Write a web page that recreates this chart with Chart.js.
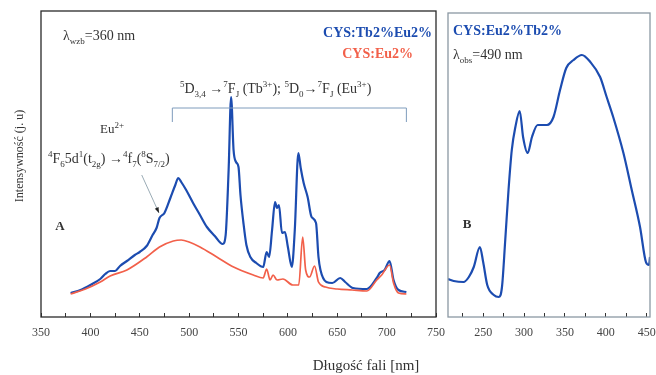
<!DOCTYPE html>
<html>
<head>
<meta charset="utf-8">
<script src="https://cdn.jsdelivr.net/npm/chart.js@4/dist/chart.umd.min.js"></script>
<style>
  body { margin: 0; background: #fff; overflow: hidden; }
  #wrap { position: relative; width: 656px; height: 375px; overflow: hidden; }
  canvas { position: absolute; top: 0; }
</style>
</head>
<body>
<div id="wrap">
  <canvas id="left" width="460" height="375" style="left:0"></canvas>
  <canvas id="right" width="240" height="375" style="left:440px"></canvas>
</div>
<script>
// panel A - emission spectra (wavelength nm, intensity a.u.)
const blueNm = [380,390,400,410,415,420,425,430,437,445,450,457,463,467,470,475,481,486,489,492,497,504,511,518,526,534,537,540,542.5,545,547.5,550,552,555,558,562,568,575,578.5,581,584,587,589,591,594,597,600,604,607,610.6,613,616,620,624,628.5,631,633,639,645,653,658,666,680,690,693,698,703,707,712,720];
const blueVal = [24,27,32,38,43,46,46,51,56,62,65,71,82,89,99,104,119,132,139,135,127,114,102,90,81,73,82,147,220,167,155,150,122,94,72,60,54,50,65,60,87,115,109,112,84,85,70,50,87,164,149,134,120,100,94,60,47,35,34,39,35,29,28,39,44,47,56,37,27,25];
const redNm = [380,395,410,420,437,457,470,484,492,500,511,528,545,565,575,578.5,582,585,589,595,605,611,615,618,622,627,631,638,650,665,680,690,695,703,707,712,720];
const redVal = [23,28,35,41,47,60,70,76,77,75,70,60,50,42,39,48,37,42,37,38,32,32,80,47,40,51,35,30,28,27,26,37,42,52,34,24,23];
// panel B - excitation spectrum
const exNm = [207,214,226,232.5,238.5,246,250,255,263,269,273,277,281,285,289.4,294.7,298.8,304.4,309.7,316.6,328,336,344,351.6,360.5,370.7,381,393,401,409,421.5,431.7,441.8,449,452.8,454];
const exVal = [38,36,35,40,50,70,55,32,22,20,30,77,127,167,190,206,180,164,180,192,192,200,227,249,257,262,255,240,220,200,164,127,90,55,52,60];
const labelsA = ['CYS:Tb2%Eu2%', 'CYS:Eu2%'];
const labelB = 'CYS:Eu2%Tb2%';

const BLUE = '#1c4cb0';
const RED = '#f2604a';
const SERIF = '"Liberation Serif", "DejaVu Serif", serif';

function pts(xs, ys) { return xs.map((x, i) => ({ x: x, y: ys[i] })); }

// text with super/subscripts: parts = [[text, 'n'|'u'|'d'], ...]
function rich(ctx, x, y, parts, size, align) {
  const f = m => (m === 'n' ? size : Math.round(size * 0.66)) + 'px ' + SERIF;
  let w = 0;
  parts.forEach(p => { ctx.font = f(p[1]); w += ctx.measureText(p[0]).width; });
  let cx = align === 'center' ? x - w / 2 : (align === 'right' ? x - w : x);
  ctx.textAlign = 'left';
  ctx.textBaseline = 'alphabetic';
  parts.forEach(p => {
    ctx.font = f(p[1]);
    const dy = p[1] === 'u' ? -size * 0.4 : (p[1] === 'd' ? size * 0.28 : 0);
    ctx.fillText(p[0], cx, y + dy);
    cx += ctx.measureText(p[0]).width;
  });
}

function frame(color) {
  return {
    id: 'frame',
    afterDatasetsDraw(chart) {
      const a = chart.chartArea, ctx = chart.ctx;
      ctx.save();
      ctx.strokeStyle = color;
      ctx.lineWidth = 1.3;
      ctx.strokeRect(a.left, a.top, a.right - a.left, a.bottom - a.top);
      ctx.restore();
    }
  };
}

function xAxis(min, max) {
  return {
    type: 'linear', min: min, max: max,
    afterFit: s => { s.height = 58; },
    grid: { drawOnChartArea: false, color: '#333', tickLength: -4, tickWidth: 1 },
    border: { display: false },
    ticks: {
      stepSize: 25, autoSkip: false, maxRotation: 0, includeBounds: false, padding: 13,
      color: '#444', font: { family: SERIF, size: 12 },
      callback: v => (v % 50 === 0 ? v : '')
    }
  };
}

const notesA = {
  id: 'notesA',
  afterDraw(chart) {
    const ctx = chart.ctx, xs = chart.scales.x, ys = chart.scales.y;
    ctx.save();
    ctx.fillStyle = '#333';
    rich(ctx, 63, 40, [['λ', 'n'], ['wzb', 'd'], ['=360 nm', 'n']], 14, 'left');
    ctx.font = 'bold 14px ' + SERIF;
    ctx.textAlign = 'right';
    ctx.fillStyle = BLUE;
    ctx.fillText(labelsA[0], 432, 37);
    ctx.fillStyle = RED;
    ctx.fillText(labelsA[1], 413, 58);
    ctx.fillStyle = '#333';
    rich(ctx, 180, 93, [['5', 'u'], ['D', 'n'], ['3,4', 'd'], [' →', 'n'], ['7', 'u'], ['F', 'n'], ['J', 'd'], [' (Tb', 'n'], ['3+', 'u'], ['); ', 'n'], ['5', 'u'], ['D', 'n'], ['0', 'd'], ['→', 'n'], ['7', 'u'], ['F', 'n'], ['J', 'd'], [' (Eu', 'n'], ['3+', 'u'], [')', 'n']], 14, 'left');
    rich(ctx, 112, 133, [['Eu', 'n'], ['2+', 'u']], 13, 'center');
    rich(ctx, 48, 163, [['4', 'u'], ['F', 'n'], ['6', 'd'], ['5d', 'n'], ['1', 'u'], ['(t', 'n'], ['2g', 'd'], [') →', 'n'], ['4', 'u'], ['f', 'n'], ['7', 'd'], ['(', 'n'], ['8', 'u'], ['S', 'n'], ['7/2', 'd'], [')', 'n']], 14, 'left');
    ctx.font = 'bold 13px ' + SERIF;
    ctx.textAlign = 'center';
    ctx.fillText('A', 60, 230);

    // bracket over the Tb/Eu lines
    const bx1 = xs.getPixelForValue(483), bx2 = xs.getPixelForValue(720);
    const by1 = ys.getPixelForValue(209), by2 = ys.getPixelForValue(195);
    ctx.strokeStyle = '#7f9cbc';
    ctx.lineWidth = 1;
    ctx.beginPath();
    ctx.moveTo(bx1, by2); ctx.lineTo(bx1, by1); ctx.lineTo(bx2, by1); ctx.lineTo(bx2, by2);
    ctx.stroke();

    // arrow to the Eu2+ band
    const ax1 = xs.getPixelForValue(452), ay1 = ys.getPixelForValue(142);
    const ax2 = xs.getPixelForValue(469.5), ay2 = ys.getPixelForValue(104);
    ctx.strokeStyle = '#9aabb5';
    ctx.beginPath(); ctx.moveTo(ax1, ay1); ctx.lineTo(ax2, ay2); ctx.stroke();
    const ang = Math.atan2(ay2 - ay1, ax2 - ax1);
    ctx.fillStyle = '#222';
    ctx.beginPath();
    ctx.moveTo(ax2, ay2);
    ctx.lineTo(ax2 - 6 * Math.cos(ang - 0.35), ay2 - 6 * Math.sin(ang - 0.35));
    ctx.lineTo(ax2 - 6 * Math.cos(ang + 0.35), ay2 - 6 * Math.sin(ang + 0.35));
    ctx.closePath(); ctx.fill();

    // axis titles
    ctx.fillStyle = '#333';
    ctx.font = '15px ' + SERIF;
    ctx.textAlign = 'center';
    ctx.textBaseline = 'middle';
    ctx.fillText('Długość fali [nm]', 366, 366);
    ctx.translate(20, 156);
    ctx.rotate(-Math.PI / 2);
    ctx.font = '12px ' + SERIF;
    ctx.fillText('Intensywność (j. u)', 0, 0);
    ctx.restore();
  }
};

const notesB = {
  id: 'notesB',
  afterDraw(chart) {
    const ctx = chart.ctx;
    ctx.save();
    ctx.font = 'bold 14px ' + SERIF;
    ctx.textAlign = 'left';
    ctx.fillStyle = BLUE;
    ctx.fillText(labelB, 13, 35);
    ctx.fillStyle = '#333';
    rich(ctx, 13, 59, [['λ', 'n'], ['obs', 'd'], ['=490 nm', 'n']], 14, 'left');
    ctx.font = 'bold 13px ' + SERIF;
    ctx.textAlign = 'center';
    ctx.fillText('B', 27, 228);
    ctx.restore();
  }
};

const lineOpts = { borderWidth: 2.2, pointRadius: 0, cubicInterpolationMode: 'monotone' };

new Chart(document.getElementById('left'), {
  type: 'line',
  data: {
    datasets: [
      Object.assign({ label: labelsA[1], data: pts(redNm, redVal), borderColor: RED }, lineOpts, { borderWidth: 1.7 }),
      Object.assign({ label: labelsA[0], data: pts(blueNm, blueVal), borderColor: BLUE }, lineOpts)
    ]
  },
  options: {
    responsive: false, animation: false,
    layout: { padding: { left: 41, right: 24, top: 11, bottom: 0 } },
    plugins: { legend: { display: false }, tooltip: { enabled: false } },
    scales: {
      x: xAxis(350, 750),
      y: { display: false, min: 0, max: 306 }
    }
  },
  plugins: [frame('#2a2a2a'), notesA]
});

new Chart(document.getElementById('right'), {
  type: 'line',
  data: {
    datasets: [
      Object.assign({ label: labelB, data: pts(exNm, exVal), borderColor: BLUE }, lineOpts)
    ]
  },
  options: {
    responsive: false, animation: false,
    layout: { padding: { left: 8, right: 30, top: 13, bottom: 0 } },
    plugins: { legend: { display: false }, tooltip: { enabled: false } },
    scales: {
      x: xAxis(207, 454),
      y: { display: false, min: 0, max: 304 }
    }
  },
  plugins: [frame('#8b98a3'), notesB]
});
</script>
</body>
</html>
